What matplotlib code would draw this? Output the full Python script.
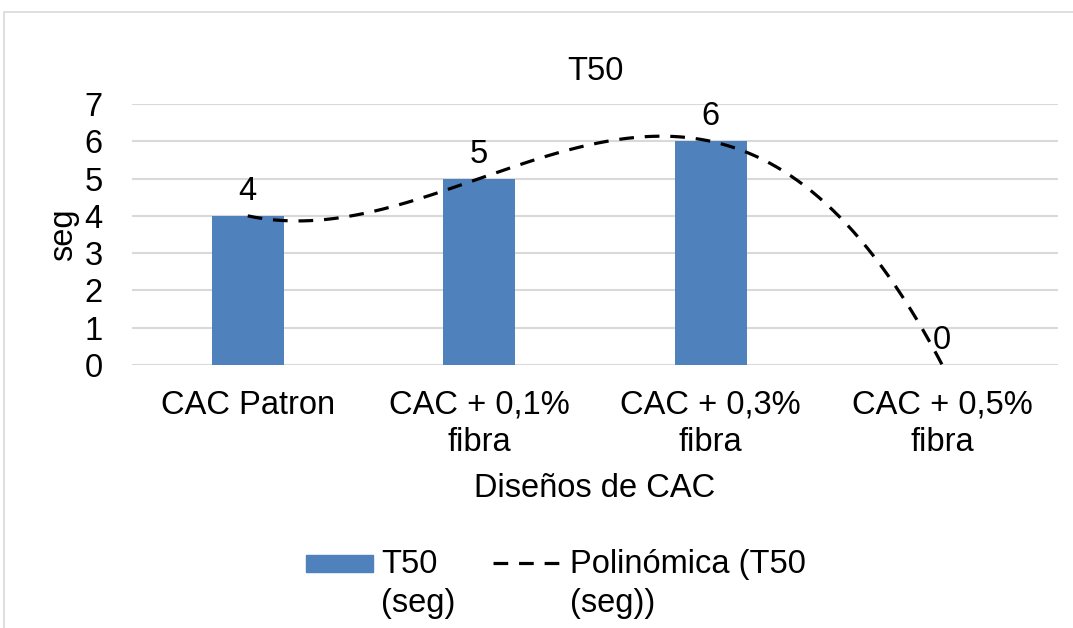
import matplotlib

matplotlib.use("Agg")
import matplotlib.pyplot as plt
import numpy as np
from matplotlib.lines import Line2D
from matplotlib.patches import Rectangle

plt.rcParams["font.family"] = ["Liberation Sans", "DejaVu Sans"]

CATEGORIES = ["CAC Patron", "CAC + 0,1%\nfibra", "CAC + 0,3%\nfibra", "CAC + 0,5%\nfibra"]
T50_SEG = [4, 5, 6, 0]
Y_TICKS = [0, 1, 2, 3, 4, 5, 6, 7]
BAR_LABEL = "T50\n(seg)"
TREND_LABEL = "Polinómica (T50\n(seg))"

BAR_COLOR = "#4f81bd"
GRID_COLOR = "#d9d9d9"
FS = 23.5
DASH = (0, (4.6, 3.4))

W, H = 1073, 628
fig = plt.figure(figsize=(W / 100, H / 100), dpi=100)
ax = fig.add_axes([132 / W, 1 - 365 / H, 926 / W, 261 / H])

x = np.arange(len(CATEGORIES))
ax.bar(x, T50_SEG, width=0.31, color=BAR_COLOR, zorder=2)

# polynomial (order 3) trendline, like Excel's "Polinómica"
coef = np.polyfit(x, T50_SEG, 3)
xs = np.linspace(x[0], x[-1], 300)
ax.plot(xs, np.polyval(coef, xs), color="black", lw=2.3, ls=DASH, zorder=3)

for xi, v in zip(x, T50_SEG):
    ax.annotate(f"{v}", (xi, v), xytext=(0, 6.5), textcoords="offset points",
                ha="center", va="bottom", fontsize=FS, zorder=4)

ax.set_xlim(-0.5, len(CATEGORIES) - 0.5)
ax.set_ylim(0, 7)
ax.set_yticks(Y_TICKS)
ax.set_xticks(x)
ax.set_xticklabels(CATEGORIES, fontsize=FS, linespacing=1.25)
ax.tick_params(axis="y", labelsize=FS, length=0, pad=21)
ax.tick_params(axis="x", length=0, pad=18)
ax.grid(axis="y", color=GRID_COLOR, lw=1.5, zorder=0)
ax.set_axisbelow(True)
for s in ax.spines.values():
    s.set_visible(False)

ax.set_title("T50", fontsize=FS, pad=17)
ax.set_ylabel("seg", fontsize=FS, labelpad=4)
ax.set_xlabel("Diseños de CAC", fontsize=FS, labelpad=11)

# legend, laid out like Excel's (handle next to the first text line)
fig.add_artist(Rectangle((306 / W, 1 - 572 / H), 67 / W, 17 / H,
                         transform=fig.transFigure, color=BAR_COLOR))
fig.add_artist(Line2D([493 / W, 563 / W], [1 - 563 / H] * 2, transform=fig.transFigure,
                      color="black", lw=2.3, ls=DASH))
fig.text(381 / W, 1 - 584 / H, BAR_LABEL, fontsize=FS, va="center", ha="left",
         linespacing=1.3)
fig.text(570 / W, 1 - 584 / H, TREND_LABEL, fontsize=FS, va="center", ha="left",
         linespacing=1.3)

# outer chart border (cut off on the right and bottom)
fig.add_artist(Rectangle((4 / W, -0.1), 1.2, (H - 12) / H + 0.1,
                         transform=fig.transFigure, fill=False,
                         edgecolor="#d9d9d9", lw=1.2))

fig.savefig("out.png", dpi=100)
